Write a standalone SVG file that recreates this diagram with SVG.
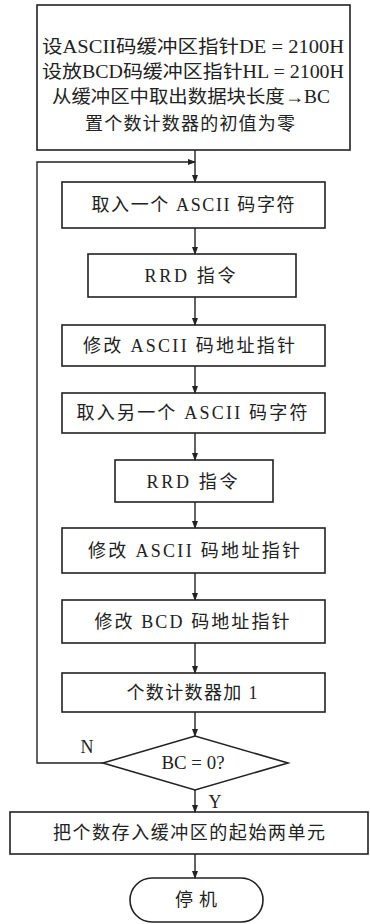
<svg xmlns="http://www.w3.org/2000/svg" width="370" height="924" viewBox="0 0 370 924">
<defs>
<marker id="ah" markerWidth="8" markerHeight="8" refX="7" refY="4" orient="auto" markerUnits="userSpaceOnUse">
<path d="M0,1 L8,4 L0,7 Z" fill="#222"/>
</marker>
<style>
.box{fill:none;stroke:#222;stroke-width:1.6}
.t{font-family:"Liberation Serif","Noto Sans CJK SC",serif;font-size:18px;fill:#222;text-anchor:middle}
.c{fill:none;stroke:#222;stroke-width:1.4}
</style>
</defs>
<rect width="370" height="924" fill="#fff"/>
<g id="start">
<rect class="box" x="37" y="5" width="313" height="145"/>
<text class="t" x="193" y="53" textLength="302" lengthAdjust="spacingAndGlyphs">设ASCII码缓冲区指针DE = 2100H</text>
<text class="t" x="193" y="78" textLength="302" lengthAdjust="spacingAndGlyphs">设放BCD码缓冲区指针HL = 2100H</text>
<text class="t" x="191" y="103" textLength="278" lengthAdjust="spacingAndGlyphs">从缓冲区中取出数据块长度→BC</text>
<text class="t" x="190" y="130" textLength="210" lengthAdjust="spacing">置个数计数器的初值为零</text>
</g>
<g id="n1">
<rect class="box" x="62" y="182" width="263" height="46"/>
<text class="t" x="193" y="211" textLength="203" lengthAdjust="spacing">取入一个 ASCII 码字符</text>
</g>
<g id="n2">
<rect class="box" x="88" y="254" width="208" height="43"/>
<text class="t" x="190" y="282" textLength="91" lengthAdjust="spacing">RRD 指令</text>
</g>
<g id="n3">
<rect class="box" x="62" y="325" width="263" height="41"/>
<text class="t" x="189" y="352" textLength="212" lengthAdjust="spacing">修改 ASCII 码地址指针</text>
</g>
<g id="n4">
<rect class="box" x="62" y="393" width="263" height="40"/>
<text class="t" x="192" y="419" textLength="231" lengthAdjust="spacing">取入另一个 ASCII 码字符</text>
</g>
<g id="n5">
<rect class="box" x="115" y="460" width="158" height="42"/>
<text class="t" x="192" y="488" textLength="91" lengthAdjust="spacing">RRD 指令</text>
</g>
<g id="n6">
<rect class="box" x="62" y="528" width="263" height="45"/>
<text class="t" x="194" y="557" textLength="212" lengthAdjust="spacing">修改 ASCII 码地址指针</text>
</g>
<g id="n7">
<rect class="box" x="62" y="600" width="263" height="43"/>
<text class="t" x="192" y="628" textLength="195" lengthAdjust="spacing">修改 BCD 码地址指针</text>
</g>
<g id="n8">
<rect class="box" x="62" y="673" width="263" height="39"/>
<text class="t" x="192" y="699" textLength="131" lengthAdjust="spacing">个数计数器加 1</text>
</g>
<g id="decision">
<polygon class="box" points="103,763 195,736 288,763 195,790"/>
<text class="t" x="193" y="769" textLength="63" lengthAdjust="spacingAndGlyphs">BC = 0?</text>
</g>
<g id="n9">
<rect class="box" x="10" y="812" width="358" height="42"/>
<text class="t" x="189" y="839" textLength="272" lengthAdjust="spacing">把个数存入缓冲区的起始两单元</text>
</g>
<g id="stop">
<rect class="box" x="130" y="878" width="133" height="44" rx="22" ry="22"/>
<text class="t" x="196" y="906" textLength="42" lengthAdjust="spacing">停机</text>
</g>
<g id="connectors">
<path class="c" d="M195,150 V182" marker-end="url(#ah)"/>
<path class="c" d="M103,763 H37 V162 H195" marker-end="url(#ah)"/>
<path class="c" d="M195,228 V254" marker-end="url(#ah)"/>
<path class="c" d="M195,297 V325" marker-end="url(#ah)"/>
<path class="c" d="M195,366 V393" marker-end="url(#ah)"/>
<path class="c" d="M195,433 V460" marker-end="url(#ah)"/>
<path class="c" d="M195,502 V528" marker-end="url(#ah)"/>
<path class="c" d="M195,573 V600" marker-end="url(#ah)"/>
<path class="c" d="M195,643 V673" marker-end="url(#ah)"/>
<path class="c" d="M195,712 V736" marker-end="url(#ah)"/>
<path class="c" d="M195,790 V812" marker-end="url(#ah)"/>
<path class="c" d="M195,854 V878" marker-end="url(#ah)"/>
<text class="t" x="87" y="753">N</text>
<text class="t" x="215" y="808">Y</text>
</g>
</svg>
